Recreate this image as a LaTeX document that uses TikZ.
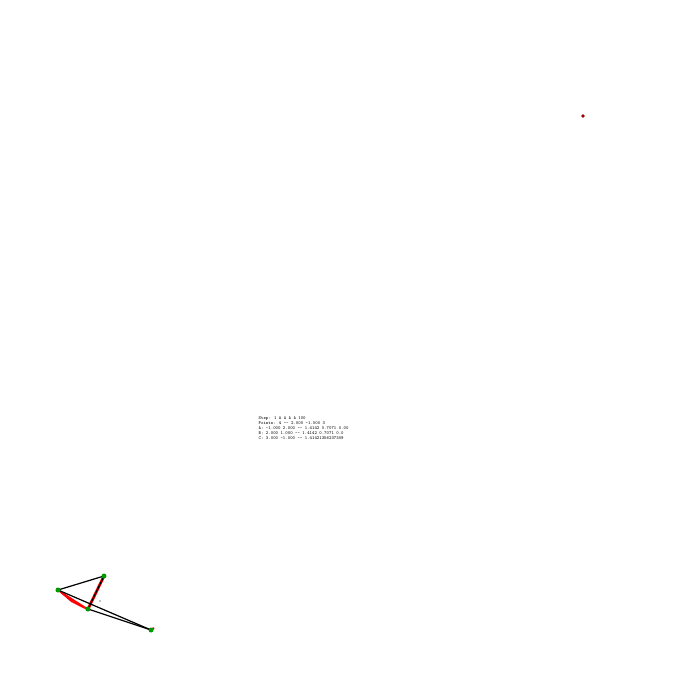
\documentclass[tikz,border=0pt]{standalone}
\usetikzlibrary{calc}
\begin{document}
\begin{tikzpicture}[x=0.01cm,y=-0.01cm,
  pt/.style={circle,fill=green!60!black,inner sep=0pt,minimum size=0.05cm},
  edge/.style={black,line width=0.35pt},
  hatch/.style={red,line width=0.3pt},
  info/.style={anchor=north west,inner sep=0pt,align=left,font=\fontsize{1.3}{1.45}\selectfont\ttfamily}]
\useasboundingbox (0,0) rectangle (700,700);
\coordinate (A) at (58,590);
\coordinate (B) at (104,576);
\coordinate (C) at (88,609);
\coordinate (D) at (151,630);
% red hatching
\foreach \dx/\dy in {-16/-7,-14/-6,-12/-5,-10/-4,-8/-3,-6/-2,-4/-1,-2/0,0/0}
  \draw[hatch] (A) -- ($(C)+(\dx,\dy)$);
\foreach \dx/\dy in {0/0,1/-2,2/-4,3/-6}
  \draw[hatch] (B) -- ($(C)+(\dx,\dy)$);
\draw[red,line width=0.8pt] (B) -- (C);
\draw[red,line width=0.6pt] (D) -- ++(3,-2);
% black edges
\draw[edge] (A) -- (B);
\draw[edge] (B) -- (C);
\draw[edge] (A) -- (D);
\draw[edge] (C) -- (D);
\node[pt] (pa) at (A) {};
\node[pt] (pb) at (B) {};
\node[pt] (pc) at (C) {};
\node[pt] (pd) at (D) {};
\fill[black] (100,601) circle (0.6);
\fill[red!60!black] (583,116) circle (1.8);
\node[info] (txt) at (258,416) {Step: 1 A A A A 100\\
Points: 4 -- 2.000 -1.000 3\\
A: -1.000 2.000 -- 1.4142 0.7071 0.00\\
B: 2.000 1.000 -- 1.4142 0.7071 0.0\\
C: 3.000 -1.000 -- 1.41421356237309};
\end{tikzpicture}
\end{document}
